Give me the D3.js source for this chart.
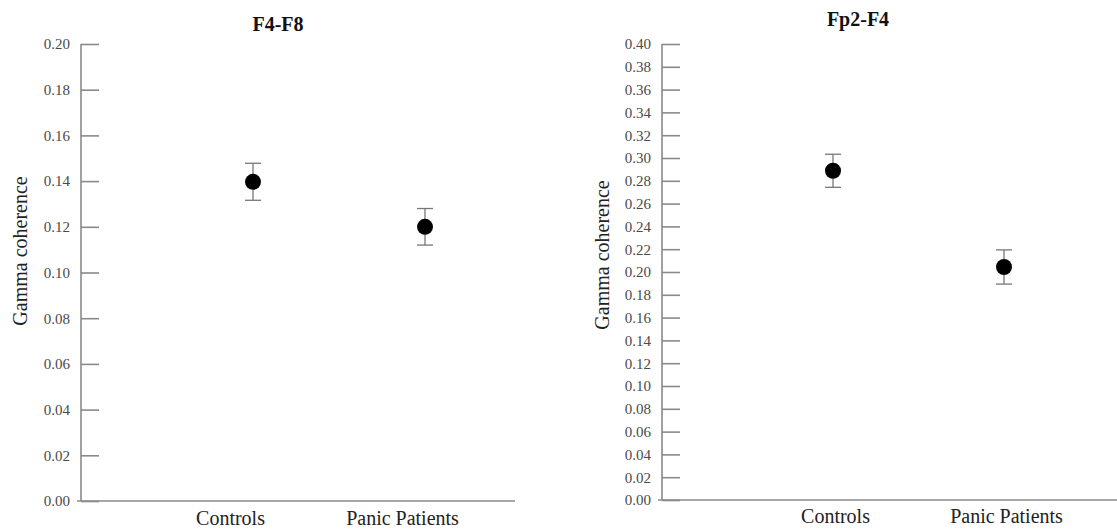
<!DOCTYPE html>
<html>
<head>
<meta charset="utf-8">
<script src="https://cdn.jsdelivr.net/npm/d3@7"></script>
<style>
body{margin:0;background:#fff;}
svg{display:block;font-family:"Liberation Serif","Times New Roman",serif;}
.axis path,.axis line{stroke:#8a8a8a;stroke-width:1.6;}
.axis text{font-family:"Liberation Serif","Times New Roman",serif;}
.axis-y text{fill:#4a4a4a;font-size:15px;}
.axis-x text{fill:#222;font-size:20px;}
.title{font-weight:bold;font-size:20px;fill:#111;}
.ylabel{font-size:20px;fill:#222;}
</style>
</head>
<body>
<div id="canvas"></div>
<script>
//Data
var groups = ['Controls','Panic Patients'];
var f4f8Means = [0.1397, 0.1200];
var f4f8Errors = [0.0081, 0.0080];
var fp2f4Means = [0.2888, 0.2044];
var fp2f4Errors = [0.0145, 0.0150];
var f4f8Ticks = [0,0.02,0.04,0.06,0.08,0.10,0.12,0.14,0.16,0.18,0.20];
var fp2f4Ticks = [0,0.02,0.04,0.06,0.08,0.10,0.12,0.14,0.16,0.18,0.20,0.22,0.24,0.26,0.28,0.30,0.32,0.34,0.36,0.38,0.40];

var svg = d3.select('#canvas')
    .append('svg')
    .attr('width',1117)
    .attr('height',532);

//one panel
function drawPanel(opt){
    var m = opt.m;
    var w = opt.w, h = opt.h;
    var plot = svg.append('g')
        .attr('transform','translate('+m.l+','+m.t+')');

    var scaleY = d3.scaleLinear()
        .domain([0,opt.max])
        .range([h,0]);
    var scaleX = d3.scalePoint()
        .domain(groups)
        .range([opt.x0,opt.x1]);

    var axisY = d3.axisLeft()
        .scale(scaleY)
        .tickValues(opt.ticks)
        .tickFormat(d3.format('.2f'))
        .tickSize(-18)
        .tickSizeOuter(0)
        .tickPadding(11);
    var gy = plot.append('g').attr('class','axis axis-y').call(axisY);
    gy.select('.domain').remove();
    gy.attr('font-family',null).attr('font-size',null);
    plot.append('line')
        .attr('x1',0).attr('x2',0).attr('y1',0).attr('y2',h)
        .attr('stroke','#8a8a8a').attr('stroke-width',1.6);

    var axisX = d3.axisBottom()
        .scale(scaleX)
        .tickSize(0)
        .tickPadding(0);
    var gx = plot.append('g').attr('class','axis axis-x')
        .attr('transform','translate(0,'+h+')')
        .call(axisX);
    gx.select('.domain').remove();
    gx.attr('font-family',null).attr('font-size',null);
    gx.selectAll('.tick text').attr('dy',0).attr('y',opt.labelY).attr('dx',opt.labelDx);
    plot.append('line')
        .attr('x1',-4).attr('x2',w).attr('y1',h).attr('y2',h)
        .attr('stroke','#8a8a8a').attr('stroke-width',1.6);

    //error bars + points
    var rows = groups.map(function(g,i){
        return {group:g, mean:opt.means[i], err:opt.errors[i]};
    });
    var nodes = plot.selectAll('.grp')
        .data(rows)
        .enter()
        .append('g')
        .attr('class','grp')
        .attr('transform',function(d){return 'translate('+scaleX(d.group)+',0)';});
    nodes.append('line')
        .attr('y1',function(d){return scaleY(d.mean+d.err)})
        .attr('y2',function(d){return scaleY(d.mean-d.err)})
        .attr('stroke','#777').attr('stroke-width',1.3);
    nodes.selectAll('.cap')
        .data(function(d){return [d.mean+d.err,d.mean-d.err]})
        .enter()
        .append('line')
        .attr('class','cap')
        .attr('x1',-8).attr('x2',8)
        .attr('y1',function(v){return scaleY(v)})
        .attr('y2',function(v){return scaleY(v)})
        .attr('stroke','#777').attr('stroke-width',1.3);
    nodes.append('circle')
        .attr('cy',function(d){return scaleY(d.mean)})
        .attr('r',8)
        .attr('fill','#000');

    plot.append('text').attr('class','title')
        .attr('x',opt.titleX).attr('y',opt.titleY)
        .attr('text-anchor','middle')
        .text(opt.title);
    plot.append('text').attr('class','ylabel')
        .attr('transform','translate('+opt.ylabX+','+opt.ylabY+') rotate(-90)')
        .attr('text-anchor','middle')
        .text('Gamma coherence');
}

drawPanel({
    m:{t:44,l:81}, w:434, h:457, max:0.20,
    ticks:f4f8Ticks, means:f4f8Means, errors:f4f8Errors,
    x0:172, x1:344, labelDx:-23, labelY:24,
    title:'F4-F8', titleX:197, titleY:-13, ylabX:-54, ylabY:207
});
drawPanel({
    m:{t:44,l:662}, w:455, h:456, max:0.40,
    ticks:fp2f4Ticks, means:fp2f4Means, errors:fp2f4Errors,
    x0:171, x1:342, labelDx:2, labelY:23,
    title:'Fp2-F4', titleX:196, titleY:-18, ylabX:-53, ylabY:211
});
</script>
</body>
</html>
